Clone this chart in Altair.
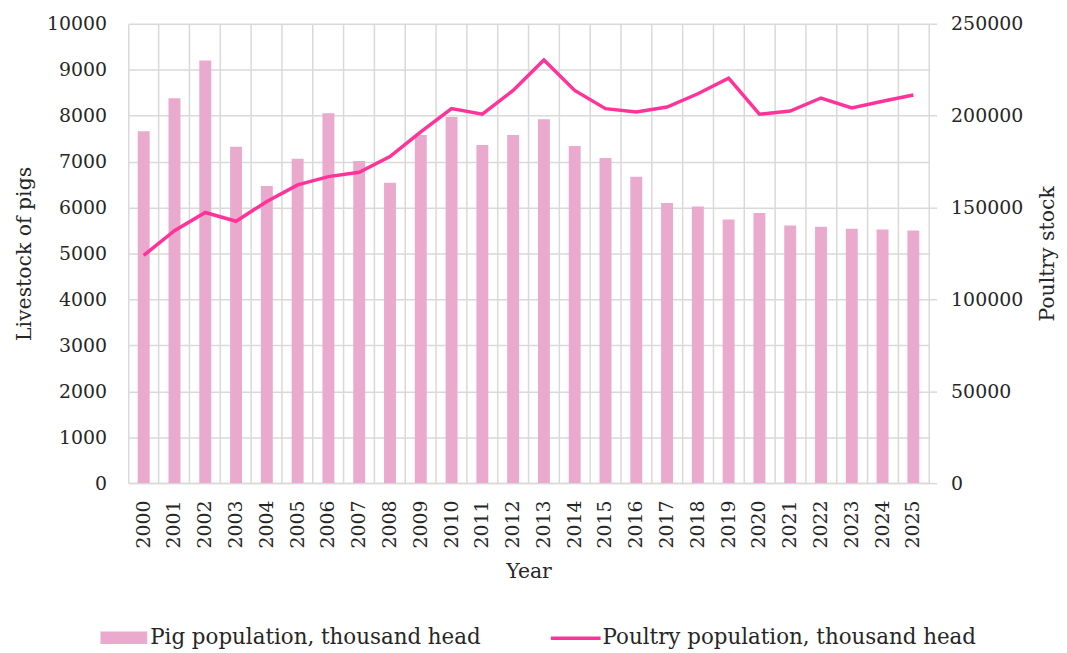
import altair as alt
import pandas as pd

years = [str(y) for y in range(2000, 2026)]
pigs = [7660, 8380, 9200, 7320, 6470, 7060, 8050, 7010, 6540, 7580,
        7970, 7360, 7580, 7920, 7340, 7080, 6670, 6100, 6020, 5740,
        5880, 5610, 5580, 5540, 5520, 5500]
poultry = [123900, 137400, 147300, 142500, 153300, 162300, 166800, 169200, 177700, 191200,
           203800, 200800, 213700, 230300, 213700, 203800, 202000, 204700, 211900, 220400,
           200800, 202500, 209600, 204200, 207800, 211200]
pig_label = "Pig population, thousand head"
poultry_label = "Poultry population, thousand head"

df = pd.DataFrame({
    "year": years,
    "pigs": pigs,
    "poultry": poultry,
    "s1": [pig_label] * len(years),
    "s2": [poultry_label] * len(years),
})

FONT = "DejaVu Serif"
GRID = "#D9D9D9"
TXT = "#262626"
PINK_BAR = "#EAAACE"
PINK_LINE = "#FF3399"

x_enc = alt.X(
    "year:N",
    title="Year",
    scale=alt.Scale(paddingInner=0, paddingOuter=0),
    axis=alt.Axis(
        labelAngle=270, ticks=False, grid=True, bandPosition=0,
        gridColor=GRID, gridWidth=1.5, domainColor=GRID, domainWidth=1.5,
        labelPadding=17, titlePadding=14,
    ),
)

bars = alt.Chart(df).mark_bar(size=12).encode(
    x=x_enc,
    y=alt.Y(
        "pigs:Q",
        title="Livestock of pigs",
        scale=alt.Scale(domain=[0, 10000], nice=False),
        axis=alt.Axis(
            values=list(range(0, 10001, 1000)), format="d", grid=True,
            gridColor=GRID, gridWidth=1.5, ticks=False, domain=False,
            labelPadding=22, titlePadding=12, orient="left",
        ),
    ),
    fill=alt.Fill(
        "s1:N",
        scale=alt.Scale(domain=[pig_label], range=[PINK_BAR]),
        legend=alt.Legend(
            title=None, orient="none", legendX=-28, legendY=594,
            symbolType="M-1,-0.27h2v0.54h-2z", symbolSize=2209,
            symbolStrokeWidth=0, labelLimit=600, labelOffset=3,
        ),
    ),
)

line = alt.Chart(df).mark_line(strokeWidth=3.5).encode(
    x=x_enc,
    y=alt.Y(
        "poultry:Q",
        title="Poultry stock",
        scale=alt.Scale(domain=[0, 250000], nice=False),
        axis=alt.Axis(
            values=list(range(0, 250001, 50000)), format="d", grid=False,
            ticks=True, tickSize=8, tickColor=GRID, tickWidth=1.5,
            domain=True, domainColor=GRID, domainWidth=1.5,
            labelPadding=14, titlePadding=35, titleAngle=270, orient="right",
        ),
    ),
    stroke=alt.Stroke(
        "s2:N",
        scale=alt.Scale(domain=[poultry_label], range=[PINK_LINE]),
        legend=alt.Legend(
            title=None, orient="none", legendX=423, legendY=591,
            symbolType="stroke", symbolSize=2500, symbolStrokeWidth=3.5,
            labelLimit=600, labelOffset=0,
        ),
    ),
)

chart = alt.layer(bars, line).resolve_scale(
    y="independent", fill="independent", stroke="independent"
).properties(
    width=805, height=462,
    padding={"left": 6, "top": 5, "right": 0, "bottom": 0},
).configure_axis(
    labelFont=FONT, titleFont=FONT, labelFontSize=19, titleFontSize=20.5,
    labelColor=TXT, titleColor=TXT, titleFontWeight="normal",
).configure_legend(
    labelFont=FONT, labelFontSize=21.5, labelColor=TXT,
).configure_view(stroke=None)

chart.save("out.html", embed_options={"renderer": "svg", "actions": False})
